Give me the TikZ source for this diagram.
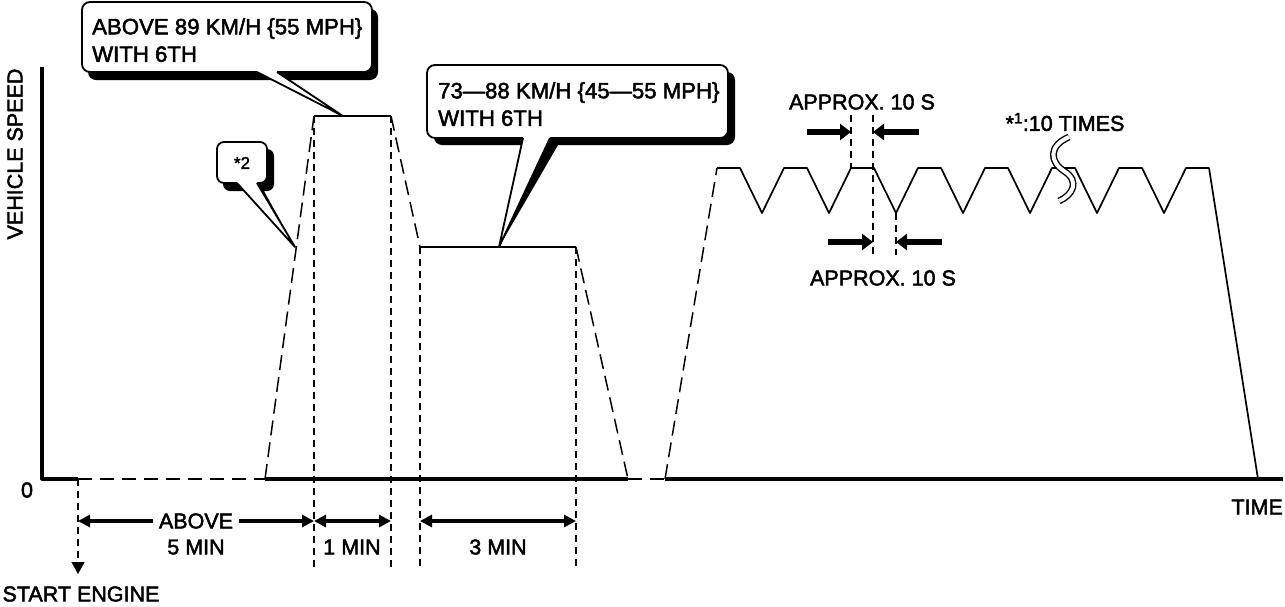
\documentclass[tikz,border=0pt]{standalone}
\usepackage{fontspec}
\setmainfont{Liberation Sans}[FakeBold=2.2]
\usetikzlibrary{arrows.meta}
\begin{document}
\begin{tikzpicture}[line join=round,x=1pt,y=-1pt,
	lbl/.style={font=\fontsize{21.5}{27.5}\selectfont,inner sep=0pt},
	boxtext/.style={font=\fontsize{22.2}{27.5}\selectfont,inner sep=0pt,align=left,anchor=north west},
	axisline/.style={line width=3.2pt},
	axisdash/.style={line width=2pt,dash pattern=on 14pt off 8pt},
	profile/.style={line width=1.7pt},
	ramp/.style={line width=1.5pt,dash pattern=on 15pt off 7pt},
	markline/.style={line width=1.3pt,dash pattern=on 7pt off 5pt},
	dimarrow/.style={line width=4pt,{Triangle[length=12pt,width=12pt]}-{Triangle[length=12pt,width=12pt]}},
	pusharrow/.style={line width=6pt,-{Triangle[length=11pt,width=16pt]}},
	bubble/.style={fill=white,draw=black,line width=1.8pt,rounded corners=8pt},
	bubbleline/.style={line width=1.8pt}]
	\useasboundingbox (0,0) rectangle (1285,606);
	% axes
	\draw[axisline] (42,67) -- (42,479) -- (78,479);
	\draw[axisdash] (78,479) -- (265,479);
	\draw[axisline] (265,479) -- (628,479);
	\draw[axisdash] (628,479) -- (665,479);
	\draw[axisline] (665,479) -- (1283,479);
	\node[lbl,rotate=90] (speed) at (15,154) {VEHICLE SPEED};
	\node[lbl] (zero) at (27,490) {0};
	\node[lbl,anchor=east] (time) at (1283,507) {TIME};
	% speed profile
	\draw[ramp] (265,479) -- (314,116);
	\draw[profile] (314,116) -- (391,116);
	\draw[ramp] (391,116) -- (420,247);
	\draw[profile] (420,247) -- (576,247);
	\draw[ramp] (576,247) -- (628,479);
	\draw[ramp] (665,479) -- (717,168);
	\draw[profile] (717,168) \foreach \px in {717,784,...,1119} {-- (\px+23,168) -- (\px+45,213) -- (\px+67,168)} -- (1209,168) -- (1258,479);
	\draw[line width=1.4pt,double=white,double distance=4pt] (1069,137) .. controls (1048,146) and (1050,162) .. (1064,171) .. controls (1080,181) and (1073,195) .. (1059,201);
	\node[lbl] (times) at (1065,122) {*\textsuperscript{1}:10 TIMES};
	% time marks
	\draw[markline,-{Triangle[length=12pt,width=13pt]}] (78,479) -- (78,574);
	\node[lbl] (start) at (81,594) {START ENGINE};
	\foreach \px/\ya in {314/116,391/116,420/247,576/247} \draw[markline] (\px,\ya) -- (\px,567);
	\draw[dimarrow] (78,521) -- node[lbl,fill=white,inner xsep=6pt] (above) {ABOVE} (314,521);
	\node[lbl] (fivemin) at (196,547) {5 MIN};
	\draw[dimarrow] (314,521) -- (391,521);
	\node[lbl] (onemin) at (352,547) {1 MIN};
	\draw[dimarrow] (420,521) -- (576,521);
	\node[lbl] (threemin) at (498,547) {3 MIN};
	% approx. 10 s marks
	\foreach \px/\ya/\yb in {851/115/168,873/115/255,896/213/255} \draw[markline] (\px,\ya) -- (\px,\yb);
	\draw[pusharrow] (807,132) -- (851,132);
	\draw[pusharrow] (919,132) -- (873,132);
	\draw[pusharrow] (828,242) -- (873,242);
	\draw[pusharrow] (942,242) -- (896,242);
	\node[lbl] (approxtop) at (862,102) {APPROX. 10 S};
	\node[lbl] (approxbot) at (883,278) {APPROX. 10 S};
	% callout above 89 km/h
	\fill[rounded corners=8pt] (88,9) rectangle (378,80);
	\fill (277,72) -- (284,80) -- (343,116) -- cycle;
	\draw[bubble] (82,2) rectangle (372,72);
	\fill[white] (257,66) -- (257,72) -- (343,116) -- (277,72) -- (277,66) -- cycle;
	\draw[bubbleline] (257,72) -- (343,116) -- (277,72);
	\node[boxtext] (fast) at (92,18) {ABOVE 89 KM/H \{55 MPH\}\\WITH 6TH};
	% callout *2
	\fill[rounded corners=7pt] (223,149) rectangle (274,191);
	\fill (257,183) -- (264,191) -- (295,247) -- cycle;
	\draw[bubble,rounded corners=7pt] (217,142) rectangle (267,183);
	\fill[white] (237,178) -- (237,183) -- (295,247) -- (257,183) -- (257,178) -- cycle;
	\draw[bubbleline] (237,183) -- (295,247) -- (257,183);
	\node[font=\fontsize{17}{20}\selectfont,inner sep=0pt] (two) at (242,163) {*2};
	% callout 73-88 km/h
	\fill[rounded corners=8pt] (434,72) rectangle (735,145);
	\fill (550,138) -- (558,145) -- (499,247) -- cycle;
	\draw[bubble] (427,65) rectangle (728,138);
	\fill[white] (523,132) -- (523,138) -- (499,247) -- (550,138) -- (550,132) -- cycle;
	\draw[bubbleline] (523,138) -- (499,247) -- (550,138);
	\node[boxtext] (mid) at (438,82) {73—88 KM/H \{45—55 MPH\}\\WITH 6TH};
\end{tikzpicture}
\end{document}
